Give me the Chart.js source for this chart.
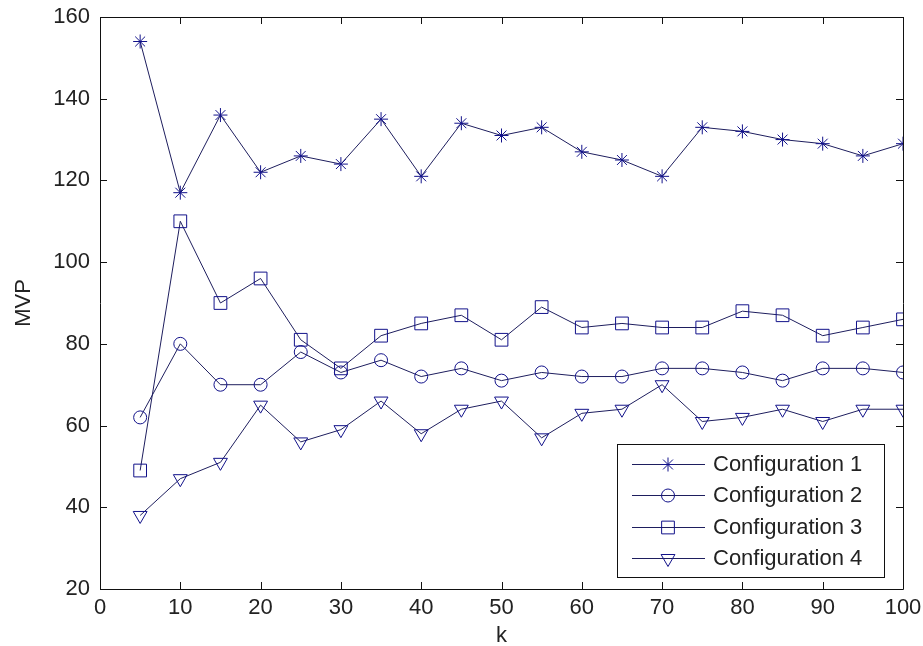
<!DOCTYPE html>
<html>
<head>
<meta charset="utf-8">
<script src="https://cdn.jsdelivr.net/npm/chart.js@4.4.0/dist/chart.umd.min.js"></script>
<style>
html,body{margin:0;padding:0;background:#fff;}
#wrap{width:923px;height:646px;position:relative;}
</style>
</head>
<body>
<div id="wrap"><canvas id="c" width="923" height="646"></canvas></div>
<script>
const kValues = [5,10,15,20,25,30,35,40,45,50,55,60,65,70,75,80,85,90,95,100];
const config1 = [154,117,136,122,126,124,135,121,134,131,133,127,125,121,133,132,130,129,126,129];
const config2 = [62,80,70,70,78,73,76,72,74,71,73,72,72,74,74,73,71,74,74,73];
const config3 = [49,110,90,96,81,74,82,85,87,81,89,84,85,84,84,88,87,82,84,86];
const config4 = [38,47,51,65,56,59,66,58,64,66,57,63,64,70,61,62,64,61,64,64];
const seriesNames = ['Configuration 1','Configuration 2','Configuration 3','Configuration 4'];
const xTicks = [0,10,20,30,40,50,60,70,80,90,100];
const yTicks = [20,40,60,80,100,120,140,160];

const LINE = '#1e1e5e';
const MARK = '#12128a';
const FONT = '"Liberation Sans", Arial, sans-serif';

const styles = [
  {pointStyle:'star', radius:7, rotation:0},
  {pointStyle:'circle', radius:6.5, rotation:0},
  {pointStyle:'rect', radius:9, rotation:0},
  {pointStyle:'triangle', radius:8, rotation:180}
];
const allSeries = [config1, config2, config3, config4];

const datasets = allSeries.map((s, i) => ({
  label: seriesNames[i],
  data: s.map((v, j) => ({x: kValues[j], y: v})),
  borderColor: LINE,
  borderWidth: 1,
  tension: 0,
  fill: false,
  pointStyle: styles[i].pointStyle,
  pointRadius: styles[i].radius,
  pointRotation: styles[i].rotation,
  pointBorderColor: MARK,
  pointBackgroundColor: 'rgba(0,0,0,0)',
  pointBorderWidth: 1,
  pointHoverRadius: styles[i].radius
}));

function drawMarker(ctx, style, x, y) {
  const r = style.radius;
  ctx.save();
  ctx.strokeStyle = MARK;
  ctx.lineWidth = 1;
  ctx.beginPath();
  if (style.pointStyle === 'star') {
    ctx.moveTo(x, y - r); ctx.lineTo(x, y + r);
    ctx.moveTo(x - r, y); ctx.lineTo(x + r, y);
    const d = r * Math.SQRT1_2;
    ctx.moveTo(x - d, y - d); ctx.lineTo(x + d, y + d);
    ctx.moveTo(x - d, y + d); ctx.lineTo(x + d, y - d);
  } else if (style.pointStyle === 'circle') {
    ctx.arc(x, y, r, 0, Math.PI * 2);
  } else if (style.pointStyle === 'rect') {
    const s = r * Math.SQRT1_2;
    ctx.rect(x - s, y - s, 2 * s, 2 * s);
  } else if (style.pointStyle === 'triangle') {
    const a = Math.PI / 2;
    for (let k = 0; k < 3; k++) {
      const ang = a + k * 2 * Math.PI / 3;
      const px = x + Math.cos(ang) * r, py = y + Math.sin(ang) * r;
      if (k === 0) ctx.moveTo(px, py); else ctx.lineTo(px, py);
    }
    ctx.closePath();
  }
  ctx.stroke();
  ctx.restore();
}

const boxPlugin = {
  id: 'boxTicks',
  afterDatasetsDraw(chart) {
    const ctx = chart.ctx;
    const a = chart.chartArea;
    const xs = chart.scales.x, ys = chart.scales.y;
    ctx.save();
    ctx.strokeStyle = '#111';
    ctx.lineWidth = 1;
    ctx.beginPath();
    ctx.rect(Math.round(a.left) + 0.5, Math.round(a.top) + 0.5, Math.round(a.right - a.left), Math.round(a.bottom - a.top));
    ctx.stroke();
    const TL = 7;
    ctx.beginPath();
    xTicks.forEach(v => {
      const px = Math.round(xs.getPixelForValue(v)) + 0.5;
      ctx.moveTo(px, a.bottom); ctx.lineTo(px, a.bottom - TL);
      ctx.moveTo(px, a.top); ctx.lineTo(px, a.top + TL);
    });
    yTicks.forEach(v => {
      const py = Math.round(ys.getPixelForValue(v)) + 0.5;
      ctx.moveTo(a.left, py); ctx.lineTo(a.left + TL, py);
      ctx.moveTo(a.right, py); ctx.lineTo(a.right - TL, py);
    });
    ctx.stroke();

    const w = 267, h = 133;
    const x0 = Math.round(a.right - 19 - w), y0 = Math.round(a.bottom - 12 - h);
    ctx.fillStyle = '#fff';
    ctx.fillRect(x0, y0, w, h);
    ctx.strokeStyle = '#111';
    ctx.strokeRect(x0 + 0.5, y0 + 0.5, w, h);
    ctx.font = '22px ' + FONT;
    ctx.textBaseline = 'middle';
    ctx.textAlign = 'left';
    seriesNames.forEach((name, i) => {
      const cy = y0 + 19.5 + i * 31.6;
      ctx.strokeStyle = LINE;
      ctx.beginPath();
      ctx.moveTo(x0 + 15, Math.round(cy) + 0.5);
      ctx.lineTo(x0 + 88, Math.round(cy) + 0.5);
      ctx.stroke();
      drawMarker(ctx, styles[i], x0 + 51, Math.round(cy) + 0.5);
      ctx.fillStyle = '#222';
      ctx.fillText(name, x0 + 96, cy + 1);
    });
    ctx.restore();
  }
};

new Chart(document.getElementById('c'), {
  type: 'line',
  data: { datasets },
  plugins: [boxPlugin],
  options: {
    responsive: false,
    animation: false,
    events: [],
    layout: { padding: { left: 0, right: 20, top: 17, bottom: 0 } },
    plugins: { legend: { display: false }, tooltip: { enabled: false } },
    scales: {
      x: {
        type: 'linear', min: 0, max: 100,
        grid: { display: false, drawTicks: false },
        border: { display: false },
        ticks: { stepSize: 10, padding: 6, color: '#222', font: { size: 22, family: FONT }, maxRotation: 0, autoSkip: false },
        title: { display: true, text: 'k', color: '#222', font: { size: 22, family: FONT }, padding: { top: 0, bottom: -3 } },
        afterFit(s) { s.height = 57; s.paddingLeft = 0; s.paddingRight = 0; }
      },
      y: {
        type: 'linear', min: 20, max: 160,
        grid: { display: false, drawTicks: false },
        border: { display: false },
        ticks: { stepSize: 20, padding: 10, color: '#222', font: { size: 22, family: FONT }, autoSkip: false },
        title: { display: true, text: 'MVP', color: '#222', font: { size: 22, family: FONT }, padding: { top: 11, bottom: 0 } },
        afterFit(s) { s.width = 100; s.paddingTop = 0; s.paddingBottom = 0; }
      }
    }
  }
});
</script>
</body>
</html>
